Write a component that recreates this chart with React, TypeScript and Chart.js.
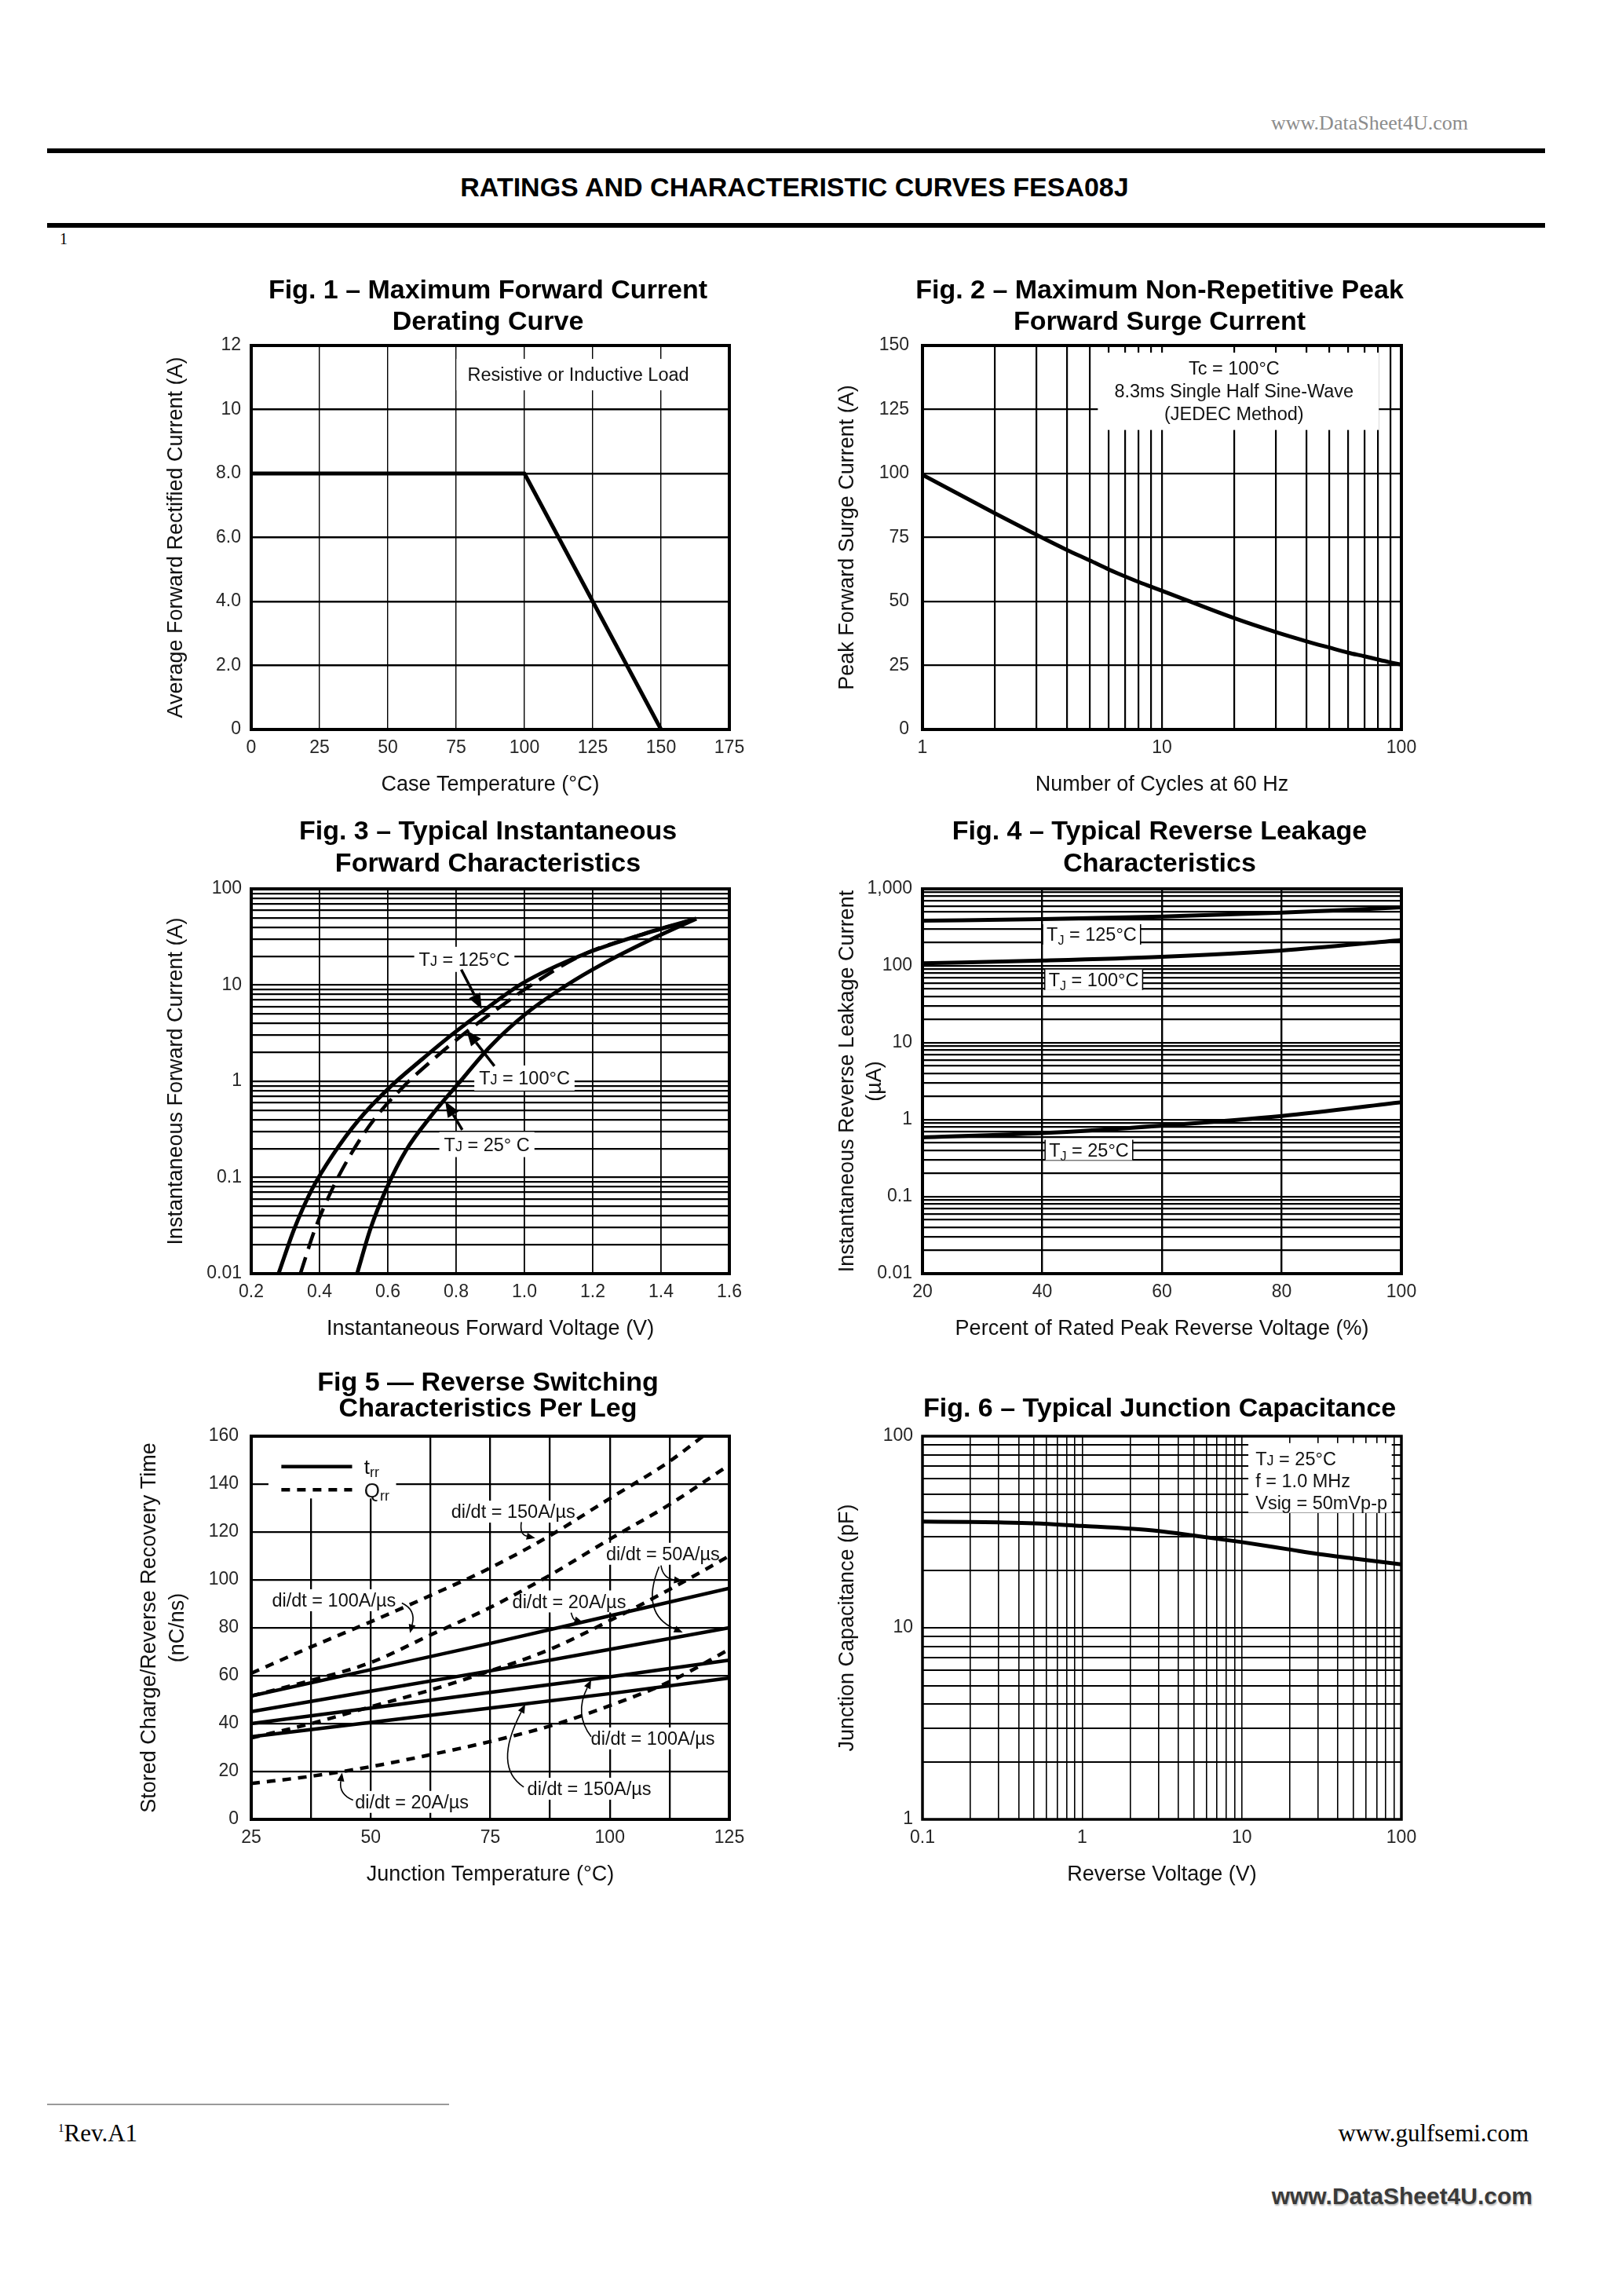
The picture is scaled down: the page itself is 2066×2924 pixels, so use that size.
import React, { useEffect, useRef } from 'react';
import { Chart, registerables } from 'chart.js';

Chart.register(...registerables);

const FONT = '"Liberation Sans", Arial, Helvetica, sans-serif';
const SERIF = '"Liberation Serif", "Times New Roman", serif';
const INK = '#111111';
const TICK_INK = '#262626';
Chart.defaults.font.family = FONT;

// ---------------- Fig. 1 : derating curve ----------------
const fig1CaseTemp = [0, 100, 150];
const fig1AvgCurrent = [8, 8, 0];
const fig1XTicks = [0, 25, 50, 75, 100, 125, 150, 175];
const fig1XLabels = ['0', '25', '50', '75', '100', '125', '150', '175'];
const fig1YTicks = [0, 2, 4, 6, 8, 10, 12];
const fig1YLabels = ['0', '2.0', '4.0', '6.0', '8.0', '10', '12'];

// ---------------- Fig. 2 : surge current ----------------
const fig2Cycles = [1, 2, 3, 4, 5, 6, 7, 8, 9, 10, 20, 30, 40, 50, 60, 70, 80, 90, 100];
const fig2Surge = [99.5, 84.5, 76, 70.2, 66, 62.5, 59.8, 57.6, 55.8, 54.2, 43.5, 38, 34.5, 32, 30, 28.6, 27.3, 26.2, 25.3];
const fig2XLabelVals = [1, 10, 100];
const fig2XLabels = ['1', '10', '100'];
const fig2YTicks = [0, 25, 50, 75, 100, 125, 150];
const fig2YLabels = ['0', '25', '50', '75', '100', '125', '150'];

// ---------------- Fig. 3 : forward characteristics ----------------
const fig3Volt125 = [0.28, 0.326, 0.379, 0.438, 0.514, 0.607, 0.701, 0.789, 0.877, 0.994, 1.17, 1.345, 1.503];
const fig3Amp125 = [0.01, 0.0292, 0.0767, 0.17, 0.394, 0.875, 1.7, 3.08, 5.31, 10.4, 20.6, 33.6, 49];
const fig3Volt100 = [0.344, 0.387, 0.438, 0.49, 0.558, 0.645, 0.734, 0.821, 0.91, 1.027, 1.17, 1.345, 1.503];
const fig3Amp100 = [0.01, 0.0292, 0.0767, 0.17, 0.394, 0.875, 1.7, 3.08, 5.31, 10.4, 20.6, 33.6, 49];
const fig3Volt25 = [0.51, 0.549, 0.596, 0.654, 0.725, 0.807, 0.9, 1.006, 1.123, 1.228, 1.369, 1.503];
const fig3Amp25 = [0.01, 0.0292, 0.0767, 0.193, 0.428, 0.95, 2.3, 5.09, 9.95, 16.5, 29.6, 49];
const fig3XTicks = [0.2, 0.4, 0.6, 0.8, 1.0, 1.2, 1.4, 1.6];
const fig3XLabels = ['0.2', '0.4', '0.6', '0.8', '1.0', '1.2', '1.4', '1.6'];
const fig3YLabelVals = [0.01, 0.1, 1, 10, 100];
const fig3YLabels = ['0.01', '0.1', '1', '10', '100'];

// ---------------- Fig. 4 : reverse leakage ----------------
const fig4Percent = [20, 40, 60, 80, 100];
const fig4Leak125 = [385, 405, 437, 490, 575];
const fig4Leak100 = [108, 117, 131, 158, 216];
const fig4Leak25 = [0.59, 0.67, 0.84, 1.12, 1.69];
const fig4XTicks = [20, 40, 60, 80, 100];
const fig4XLabels = ['20', '40', '60', '80', '100'];
const fig4YLabelVals = [0.01, 0.1, 1, 10, 100, 1000];
const fig4YLabels = ['0.01', '0.1', '1', '10', '100', '1,000'];

// ---------------- Fig. 5 : reverse switching ----------------
const fig5TempTrr = [25, 50, 75, 100, 125];
const fig5Trr20 = [51.5, 62.5, 73.5, 85, 96.5];
const fig5Trr50 = [45, 53.5, 62, 71, 80];
const fig5Trr100 = [40, 46.5, 53, 59.5, 66.5];
const fig5Trr150 = [34.5, 40.5, 46.5, 52.5, 59];
const fig5TempQrr = [25, 37.5, 50, 62.5, 75, 87.5, 100, 112.5, 125];
const fig5TempQrr150 = [25, 37.5, 50, 62.5, 75, 87.5, 100, 112.5, 119.5];
const fig5Qrr150 = [61, 72, 82.5, 93.5, 105, 118.5, 134, 149.5, 160];
const fig5Qrr100 = [51.5, 58, 65.5, 77, 88.5, 102, 117, 131.5, 148];
const fig5Qrr50 = [34, 40, 47, 54, 62, 71, 83, 96, 110];
const fig5Qrr20 = [15, 18, 22, 27, 32.5, 39, 47.5, 57.5, 71];
const fig5XTicks = [25, 37.5, 50, 62.5, 75, 87.5, 100, 112.5, 125];
const fig5XLabelVals = [25, 50, 75, 100, 125];
const fig5XLabels = ['25', '50', '75', '100', '125'];
const fig5YTicks = [0, 20, 40, 60, 80, 100, 120, 140, 160];
const fig5YLabels = ['0', '20', '40', '60', '80', '100', '120', '140', '160'];

// ---------------- Fig. 6 : junction capacitance ----------------
const fig6Voltage = [0.1, 0.2, 0.3, 0.5, 1, 2, 3, 5, 10, 20, 30, 50, 100];
const fig6Cap = [35.8, 35.7, 35.5, 35.1, 34, 32.9, 32, 30.3, 28, 25.6, 24.3, 23, 21.4];
const fig6XLabelVals = [0.1, 1, 10, 100];
const fig6XLabels = ['0.1', '1', '10', '100'];
const fig6YLabelVals = [1, 10, 100];
const fig6YLabels = ['1', '10', '100'];

// ---------------- layout ----------------
const COL_LEFT = [320, 1175];
const PLOT_W = [609, 610];
const ROW_TOP = [440, 1132, 1829];
const PLOT_H = [489, 490, 488];
const PADL = 150;
const PADT = 120;
const PADR = 50;
const PADB = 110;
const AXT = 27; // axis title font size
const XT_PAD = 22.8;
const YT_PAD = 38.3;

function decadeGrid(fromExp: number, toExp: number): number[] {
  const out: number[] = [];
  for (let e = fromExp; e < toExp; e++) {
    for (let m = 1; m < 10; m++) out.push(+(m * Math.pow(10, e)).toPrecision(6));
  }
  out.push(Math.pow(10, toExp));
  return out;
}

interface AxisDef {
  type: 'linear' | 'logarithmic';
  min: number;
  max: number;
  grid: number[];
  labelVals: number[];
  labels: string[];
  title: string[];
  titleLH: number;
  titlePad: number;
  gridWidth: number;
  tickPad: number;
}
interface SeriesDef {
  xs: number[];
  ys: number[];
  width: number;
  dash?: number[];
  smooth: boolean;
}
interface FigDef {
  key: string;
  col: number;
  row: number;
  title: string[];
  titleOffsets: number[];
  x: AxisDef;
  y: AxisDef;
  series: SeriesDef[];
  frame: number;
  under?: (c: any) => void;
  over?: (c: any) => void;
}

// ---------------- drawing helpers ----------------
function P(c: any, x: number, y: number) {
  return { x: c.scales.x.getPixelForValue(x), y: c.scales.y.getPixelForValue(y) };
}
function whiteRectPx(ctx: CanvasRenderingContext2D, l: number, t: number, r: number, b: number) {
  ctx.save();
  ctx.fillStyle = '#ffffff';
  ctx.fillRect(l, t, r - l, b - t);
  ctx.restore();
}
function whiteRectData(c: any, x0: number, y0: number, x1: number, y1: number) {
  const a = P(c, x0, y0);
  const b = P(c, x1, y1);
  whiteRectPx(c.ctx, Math.min(a.x, b.x), Math.min(a.y, b.y), Math.max(a.x, b.x), Math.max(a.y, b.y));
}
type Part = { t: string; s: number; dy?: number };
function richWidth(ctx: CanvasRenderingContext2D, parts: Part[]) {
  let w = 0;
  ctx.save();
  for (const p of parts) {
    ctx.font = `${p.s}px ${FONT}`;
    w += ctx.measureText(p.t).width;
  }
  ctx.restore();
  return w;
}
function drawRich(ctx: CanvasRenderingContext2D, parts: Part[], x: number, y: number, align: 'left' | 'center') {
  const w = richWidth(ctx, parts);
  let cx = align === 'center' ? x - w / 2 : x;
  const base = y + 0.358 * parts[0].s;
  ctx.save();
  ctx.fillStyle = INK;
  ctx.textAlign = 'left';
  ctx.textBaseline = 'alphabetic';
  for (const p of parts) {
    ctx.font = `${p.s}px ${FONT}`;
    ctx.fillText(p.t, cx, base + (p.dy || 0));
    cx += ctx.measureText(p.t).width;
  }
  ctx.restore();
  return w;
}
function labelBox(c: any, parts: Part[], xd: number, yd: number, padX: number, halfH: number, edges = false) {
  const ctx = c.ctx as CanvasRenderingContext2D;
  const p = P(c, xd, yd);
  const w = richWidth(ctx, parts);
  const l = p.x - w / 2 - padX;
  const r = p.x + w / 2 + padX;
  whiteRectPx(ctx, l, p.y - halfH, r, p.y + halfH);
  if (edges) {
    ctx.save();
    ctx.strokeStyle = '#000';
    ctx.lineWidth = 1.5;
    ctx.beginPath();
    ctx.moveTo(l, p.y - halfH);
    ctx.lineTo(l, p.y + halfH);
    ctx.moveTo(r, p.y - halfH);
    ctx.lineTo(r, p.y + halfH);
    ctx.stroke();
    ctx.restore();
  }
  drawRich(ctx, parts, p.x, p.y, 'center');
}
function arrowHead(ctx: CanvasRenderingContext2D, tipX: number, tipY: number, ang: number, hl: number, hw: number) {
  const bx = tipX - hl * Math.cos(ang);
  const by = tipY - hl * Math.sin(ang);
  ctx.beginPath();
  ctx.moveTo(tipX, tipY);
  ctx.lineTo(bx + hw * Math.sin(ang), by - hw * Math.cos(ang));
  ctx.lineTo(bx - hw * Math.sin(ang), by + hw * Math.cos(ang));
  ctx.closePath();
  ctx.fill();
  return { bx, by };
}
function straightArrow(c: any, x0: number, y0: number, x1: number, y1: number, lw: number, hl: number, hw: number) {
  const ctx = c.ctx as CanvasRenderingContext2D;
  const a = P(c, x0, y0);
  const b = P(c, x1, y1);
  const ang = Math.atan2(b.y - a.y, b.x - a.x);
  ctx.save();
  ctx.strokeStyle = '#000';
  ctx.fillStyle = '#000';
  ctx.lineWidth = lw;
  const { bx, by } = arrowHead(ctx, b.x, b.y, ang, hl, hw);
  ctx.beginPath();
  ctx.moveTo(a.x, a.y);
  ctx.lineTo(bx, by);
  ctx.stroke();
  ctx.restore();
}
function curvedArrow(c: any, pts: number[][], lw: number, hl: number, hw: number) {
  const ctx = c.ctx as CanvasRenderingContext2D;
  const a = P(c, pts[0][0], pts[0][1]);
  const m = P(c, pts[1][0], pts[1][1]);
  const b = P(c, pts[2][0], pts[2][1]);
  const ang = Math.atan2(b.y - m.y, b.x - m.x);
  ctx.save();
  ctx.strokeStyle = '#000';
  ctx.fillStyle = '#000';
  ctx.lineWidth = lw;
  const { bx, by } = arrowHead(ctx, b.x, b.y, ang, hl, hw);
  ctx.beginPath();
  ctx.moveTo(a.x, a.y);
  ctx.quadraticCurveTo(m.x, m.y, bx, by);
  ctx.stroke();
  ctx.restore();
}

const ANN = 23.5;
const SUB = 16;

// ---------------- figure definitions ----------------
const FIGS: FigDef[] = [
  {
    key: 'f1',
    col: 0,
    row: 0,
    title: ['Fig. 1 – Maximum Forward Current', 'Derating Curve'],
    titleOffsets: [69, 29],
    x: { type: 'linear', min: 0, max: 175, grid: fig1XTicks, labelVals: fig1XTicks, labels: fig1XLabels, title: ['Case Temperature (°C)'], titleLH: 1.2, titlePad: XT_PAD, gridWidth: 1.4, tickPad: 10 },
    y: { type: 'linear', min: 0, max: 12, grid: fig1YTicks, labelVals: fig1YTicks, labels: fig1YLabels, title: ['Average Forward Rectified Current (A)'], titleLH: 1.2, titlePad: YT_PAD, gridWidth: 2.6, tickPad: 13 },
    series: [{ xs: fig1CaseTemp, ys: fig1AvgCurrent, width: 5, smooth: false }],
    frame: 4,
    under: (c) => {
      labelBox(c, [{ t: 'Resistive or Inductive Load', s: ANN }], 119.7, 11.09, 14, 20);
    },
  },
  {
    key: 'f2',
    col: 1,
    row: 0,
    title: ['Fig. 2 – Maximum Non-Repetitive Peak', 'Forward Surge Current'],
    titleOffsets: [69, 29],
    x: { type: 'logarithmic', min: 1, max: 100, grid: decadeGrid(0, 2), labelVals: fig2XLabelVals, labels: fig2XLabels, title: ['Number of Cycles at 60 Hz'], titleLH: 1.2, titlePad: XT_PAD, gridWidth: 2.2, tickPad: 10 },
    y: { type: 'linear', min: 0, max: 150, grid: fig2YTicks, labelVals: fig2YTicks, labels: fig2YLabels, title: ['Peak Forward Surge Current (A)'], titleLH: 1.2, titlePad: YT_PAD, gridWidth: 2.2, tickPad: 17 },
    series: [{ xs: fig2Cycles, ys: fig2Surge, width: 5, smooth: true }],
    frame: 4,
    under: (c) => {
      whiteRectData(c, 5.4, 147.2, 80.5, 117);
      const ctx = c.ctx;
      const cx = P(c, 20, 0).x;
      drawRich(ctx, [{ t: 'Tc = 100°C', s: ANN }], cx, P(c, 1, 141.1).y, 'center');
      drawRich(ctx, [{ t: '8.3ms Single Half Sine-Wave', s: ANN }], cx, P(c, 1, 132.4).y, 'center');
      drawRich(ctx, [{ t: '(JEDEC Method)', s: ANN }], cx, P(c, 1, 123.3).y, 'center');
    },
  },
  {
    key: 'f3',
    col: 0,
    row: 1,
    title: ['Fig. 3 – Typical Instantaneous', 'Forward Characteristics'],
    titleOffsets: [72, 31],
    x: { type: 'linear', min: 0.2, max: 1.6, grid: fig3XTicks, labelVals: fig3XTicks, labels: fig3XLabels, title: ['Instantaneous Forward Voltage (V)'], titleLH: 1.2, titlePad: XT_PAD, gridWidth: 1.8, tickPad: 10 },
    y: { type: 'logarithmic', min: 0.01, max: 100, grid: decadeGrid(-2, 2), labelVals: fig3YLabelVals, labels: fig3YLabels, title: ['Instantaneous Forward Current (A)'], titleLH: 1.2, titlePad: YT_PAD, gridWidth: 2.2, tickPad: 12 },
    series: [
      { xs: fig3Volt125, ys: fig3Amp125, width: 5, smooth: true },
      { xs: fig3Volt100, ys: fig3Amp100, width: 4.5, dash: [22, 11], smooth: true },
      { xs: fig3Volt25, ys: fig3Amp25, width: 5, smooth: true },
    ],
    frame: 4,
    under: (c) => {
      labelBox(c, [{ t: 'T', s: ANN }, { t: 'J', s: 18 }, { t: ' = 125°C', s: ANN }], 0.824, 18.5, 6, 16);
      labelBox(c, [{ t: 'T', s: ANN }, { t: 'J', s: 18 }, { t: ' = 100°C', s: ANN }], 1.0, 1.08, 6, 16);
      labelBox(c, [{ t: 'T', s: ANN }, { t: 'J', s: 18 }, { t: ' = 25° C', s: ANN }], 0.89, 0.22, 6, 16);
    },
    over: (c) => {
      straightArrow(c, 0.815, 14.5, 0.875, 5.6, 3.5, 20, 8);
      straightArrow(c, 0.912, 1.44, 0.83, 3.4, 3.5, 20, 8);
      straightArrow(c, 0.818, 0.312, 0.768, 0.62, 3.5, 20, 8);
    },
  },
  {
    key: 'f4',
    col: 1,
    row: 1,
    title: ['Fig. 4 – Typical Reverse Leakage', 'Characteristics'],
    titleOffsets: [72, 31],
    x: { type: 'linear', min: 20, max: 100, grid: fig4XTicks, labelVals: fig4XTicks, labels: fig4XLabels, title: ['Percent of Rated Peak Reverse Voltage (%)'], titleLH: 1.2, titlePad: XT_PAD, gridWidth: 2.4, tickPad: 10 },
    y: { type: 'logarithmic', min: 0.01, max: 1000, grid: decadeGrid(-2, 3), labelVals: fig4YLabelVals, labels: fig4YLabels, title: ['Instantaneous Reverse Leakage Current', '(µA)'], titleLH: 35 / AXT, titlePad: 37.5, gridWidth: 2.2, tickPad: 13 },
    series: [
      { xs: fig4Percent, ys: fig4Leak125, width: 5, smooth: true },
      { xs: fig4Percent, ys: fig4Leak100, width: 5, smooth: true },
      { xs: fig4Percent, ys: fig4Leak25, width: 5, smooth: true },
    ],
    frame: 4,
    under: (c) => {
      labelBox(c, [{ t: 'T', s: ANN }, { t: 'J', s: SUB, dy: 5 }, { t: ' = 125°C', s: ANN }], 48.25, 256, 5, 13, true);
      labelBox(c, [{ t: 'T', s: ANN }, { t: 'J', s: SUB, dy: 5 }, { t: ' = 100°C', s: ANN }], 48.6, 66, 5, 13, true);
      labelBox(c, [{ t: 'T', s: ANN }, { t: 'J', s: SUB, dy: 5 }, { t: ' = 25°C', s: ANN }], 47.8, 0.405, 5, 13, true);
    },
  },
  {
    key: 'f5',
    col: 0,
    row: 2,
    title: ['Fig 5 — Reverse Switching', 'Characteristics Per Leg'],
    titleOffsets: [67, 34],
    x: { type: 'linear', min: 25, max: 125, grid: fig5XTicks, labelVals: fig5XLabelVals, labels: fig5XLabels, title: ['Junction Temperature (°C)'], titleLH: 1.2, titlePad: XT_PAD, gridWidth: 2.3, tickPad: 10 },
    y: { type: 'linear', min: 0, max: 160, grid: fig5YTicks, labelVals: fig5YTicks, labels: fig5YLabels, title: ['Stored Charge/Reverse Recovery Time', '(nC/ns)'], titleLH: 36 / AXT, titlePad: 3, gridWidth: 2.2, tickPad: 16 },
    series: [
      { xs: fig5TempTrr, ys: fig5Trr20, width: 4.5, smooth: false },
      { xs: fig5TempTrr, ys: fig5Trr50, width: 4.5, smooth: false },
      { xs: fig5TempTrr, ys: fig5Trr100, width: 4.5, smooth: false },
      { xs: fig5TempTrr, ys: fig5Trr150, width: 4.5, smooth: false },
      { xs: fig5TempQrr150, ys: fig5Qrr150, width: 4.5, dash: [11, 9], smooth: true },
      { xs: fig5TempQrr, ys: fig5Qrr100, width: 4.5, dash: [11, 9], smooth: true },
      { xs: fig5TempQrr, ys: fig5Qrr50, width: 4.5, dash: [11, 9], smooth: true },
      { xs: fig5TempQrr, ys: fig5Qrr20, width: 4.5, dash: [11, 9], smooth: true },
    ],
    frame: 4,
    under: (c) => {
      whiteRectData(c, 28.6, 160, 55.3, 134);
      const L = (s: string) => [{ t: s, s: ANN }];
      labelBox(c, L('di/dt = 150A/µs'), 79.8, 128.5, 3, 14);
      labelBox(c, L('di/dt = 100A/µs'), 42.3, 91.5, 3, 14);
      labelBox(c, L('di/dt = 20A/µs'), 91.5, 91.0, 3, 14);
      labelBox(c, L('di/dt = 50A/µs'), 111.1, 110.9, 3, 14);
      labelBox(c, L('di/dt = 100A/µs'), 109, 33.8, 3, 14);
      labelBox(c, L('di/dt = 150A/µs'), 95.7, 12.8, 3, 14);
      labelBox(c, L('di/dt = 20A/µs'), 58.6, 7.3, 3, 14);
    },
    over: (c) => {
      const ctx = c.ctx as CanvasRenderingContext2D;
      const s0 = P(c, 31.3, 147.3);
      const s1 = P(c, 46.1, 147.3);
      const d0 = P(c, 31.3, 137.6);
      const d1 = P(c, 46.1, 137.6);
      ctx.save();
      ctx.strokeStyle = '#000';
      ctx.lineWidth = 4.5;
      ctx.beginPath();
      ctx.moveTo(s0.x, s0.y);
      ctx.lineTo(s1.x, s1.y);
      ctx.stroke();
      ctx.setLineDash([11, 9]);
      ctx.beginPath();
      ctx.moveTo(d0.x, d0.y);
      ctx.lineTo(d1.x, d1.y);
      ctx.stroke();
      ctx.restore();
      const tx = P(c, 48.6, 0).x;
      drawRich(ctx, [{ t: 't', s: 26 }, { t: 'rr', s: 18, dy: 4 }], tx, s0.y, 'left');
      drawRich(ctx, [{ t: 'Q', s: 26 }, { t: 'rr', s: 18, dy: 4 }], tx, d0.y, 'left');
      const lw = 1.6;
      curvedArrow(c, [[81.5, 124.1], [81.1, 118.9], [84.4, 117.5]], lw, 11, 4.5);
      curvedArrow(c, [[56.5, 90.3], [59.5, 87.5], [58.2, 77.8]], lw, 11, 4.5);
      curvedArrow(c, [[91.9, 86.3], [92.3, 83.5], [94.4, 82.2]], lw, 11, 4.5);
      curvedArrow(c, [[110.7, 106], [111.1, 100.6], [115.25, 99.5]], lw, 11, 4.5);
      curvedArrow(c, [[110.3, 105.5], [106.3, 86], [115.25, 78]], lw, 11, 4.5);
      curvedArrow(c, [[96.1, 34.5], [92.5, 44], [96.1, 58.2]], lw, 11, 4.5);
      curvedArrow(c, [[82.0, 13.5], [75.5, 22], [82.3, 48]], lw, 11, 4.5);
      curvedArrow(c, [[46.3, 8], [43.3, 10.5], [44, 19.5]], lw, 11, 4.5);
    },
  },
  {
    key: 'f6',
    col: 1,
    row: 2,
    title: ['Fig. 6 – Typical Junction Capacitance'],
    titleOffsets: [34],
    x: { type: 'logarithmic', min: 0.1, max: 100, grid: decadeGrid(-1, 2), labelVals: fig6XLabelVals, labels: fig6XLabels, title: ['Reverse Voltage (V)'], titleLH: 1.2, titlePad: XT_PAD, gridWidth: 1.6, tickPad: 10 },
    y: { type: 'logarithmic', min: 1, max: 100, grid: decadeGrid(0, 2), labelVals: fig6YLabelVals, labels: fig6YLabels, title: ['Junction Capacitance (pF)'], titleLH: 1.2, titlePad: YT_PAD, gridWidth: 1.9, tickPad: 12 },
    series: [{ xs: fig6Voltage, ys: fig6Cap, width: 5, smooth: true }],
    frame: 3.5,
    under: (c) => {
      whiteRectData(c, 11, 92, 87, 39.8);
      const ctx = c.ctx;
      const lx = P(c, 12.2, 1).x;
      drawRich(ctx, [{ t: 'T', s: ANN }, { t: 'J', s: 18 }, { t: ' = 25°C', s: ANN }], lx, P(c, 1, 76).y, 'left');
      drawRich(ctx, [{ t: 'f = 1.0 MHz', s: ANN }], lx, P(c, 1, 58.4).y, 'left');
      drawRich(ctx, [{ t: 'Vsig = 50mVp-p', s: ANN }], lx, P(c, 1, 45.1).y, 'left');
    },
  },
];

function labelFor(a: AxisDef, v: number): string {
  const i = a.labelVals.findIndex((lv) => Math.abs(lv - v) <= 1e-9 * Math.max(1, Math.abs(lv)));
  return i >= 0 ? a.labels[i] : '';
}

function makeAxis(a: AxisDef, horizontal: boolean): any {
  return {
    type: a.type,
    position: horizontal ? 'bottom' : 'left',
    min: a.min,
    max: a.max,
    afterBuildTicks: (s: any) => {
      s.ticks = a.grid.map((v) => ({ value: v }));
    },
    afterFit: (s: any) => {
      if (horizontal) s.height = PADB;
      else s.width = PADL;
    },
    ticks: {
      autoSkip: false,
      maxRotation: 0,
      minRotation: 0,
      padding: a.tickPad,
      color: TICK_INK,
      font: { family: FONT, size: 23 },
      callback: (v: any) => labelFor(a, Number(v)),
    },
    grid: { color: '#000000', lineWidth: a.gridWidth, drawTicks: false },
    border: { display: false },
    title: {
      display: true,
      text: a.title,
      color: INK,
      font: { family: FONT, size: AXT, lineHeight: a.titleLH },
      padding: horizontal ? { top: 0, bottom: a.titlePad } : { top: a.titlePad, bottom: 0 },
    },
  };
}

function buildConfig(fig: FigDef): any {
  const decor = {
    id: 'decor_' + fig.key,
    beforeDatasetsDraw(chart: any) {
      if (fig.under) fig.under(chart);
    },
    afterDatasetsDraw(chart: any) {
      const ctx = chart.ctx as CanvasRenderingContext2D;
      const a = chart.chartArea;
      ctx.save();
      ctx.strokeStyle = '#000';
      ctx.lineWidth = fig.frame;
      ctx.strokeRect(a.left, a.top, a.right - a.left, a.bottom - a.top);
      ctx.restore();
      if (fig.over) fig.over(chart);
      ctx.save();
      ctx.fillStyle = '#000';
      ctx.font = `bold 34px ${FONT}`;
      ctx.textAlign = 'center';
      ctx.textBaseline = 'middle';
      fig.title.forEach((t, i) => ctx.fillText(t, (a.left + a.right) / 2 - 3, a.top - fig.titleOffsets[i]));
      ctx.restore();
    },
  };
  return {
    type: 'line',
    data: {
      datasets: fig.series.map((s) => ({
        data: s.xs.map((x, i) => ({ x, y: s.ys[i] })),
        borderColor: '#000000',
        backgroundColor: '#000000',
        borderWidth: s.width,
        borderDash: s.dash || [],
        borderCapStyle: 'butt',
        borderJoinStyle: 'round',
        pointRadius: 0,
        pointHoverRadius: 0,
        fill: false,
        tension: 0,
        cubicInterpolationMode: s.smooth ? 'monotone' : 'default',
      })),
    },
    options: {
      animation: false,
      responsive: false,
      maintainAspectRatio: false,
      devicePixelRatio: 1,
      events: [],
      layout: { padding: { top: PADT, right: PADR, left: 0, bottom: 0 } },
      plugins: { legend: { display: false }, tooltip: { enabled: false }, title: { display: false } },
      scales: { x: makeAxis(fig.x, true), y: makeAxis(fig.y, false) },
    },
    plugins: [decor],
  };
}

function FigChart({ fig }: { fig: FigDef }) {
  const ref = useRef<HTMLCanvasElement>(null);
  const plotW = PLOT_W[fig.col];
  const plotH = PLOT_H[fig.row];
  const W = PADL + plotW + PADR;
  const H = PADT + plotH + PADB;
  const left = COL_LEFT[fig.col] - PADL;
  const top = ROW_TOP[fig.row] - PADT;
  useEffect(() => {
    if (!ref.current) return;
    const chart = new Chart(ref.current, buildConfig(fig));
    return () => chart.destroy();
  }, [fig]);
  return (
    <canvas
      ref={ref}
      width={W}
      height={H}
      style={{ position: 'absolute', left, top, width: W, height: H }}
    />
  );
}

export default function App() {
  return (
    <div style={{ position: 'absolute', left: 0, top: 0, width: 2066, height: 2924, background: '#ffffff', overflow: 'hidden' }}>
      <div style={{ position: 'absolute', right: 2066 - 1870, top: 141, fontFamily: SERIF, fontSize: 26, lineHeight: '32px', color: '#8c8c8c', whiteSpace: 'nowrap' }}>
        www.DataSheet4U.com
      </div>
      <div style={{ position: 'absolute', left: 60, top: 189, width: 1908, height: 6, background: '#000' }} />
      <div style={{ position: 'absolute', left: 0, width: 2024, top: 218, lineHeight: '40px', textAlign: 'center', fontFamily: FONT, fontWeight: 700, fontSize: 34, color: '#000', whiteSpace: 'nowrap' }}>
        RATINGS AND CHARACTERISTIC CURVES FESA08J
      </div>
      <div style={{ position: 'absolute', left: 60, top: 284, width: 1908, height: 6, background: '#000' }} />
      <div style={{ position: 'absolute', left: 76, top: 292, fontFamily: SERIF, fontSize: 20, lineHeight: '24px', color: '#000' }}>1</div>

      {FIGS.map((f) => (
        <FigChart key={f.key} fig={f} />
      ))}

      <div style={{ position: 'absolute', left: 60, top: 2679, width: 512, height: 1.5, background: '#9a9a9a' }} />
      <div style={{ position: 'absolute', left: 74, top: 2698, fontFamily: SERIF, fontSize: 31, lineHeight: '38px', color: '#000', whiteSpace: 'nowrap' }}>
        <span style={{ fontSize: 15, position: 'relative', top: -12 }}>1</span>Rev.A1
      </div>
      <div style={{ position: 'absolute', right: 2066 - 1947, top: 2698, fontFamily: SERIF, fontSize: 31, lineHeight: '38px', color: '#000', whiteSpace: 'nowrap' }}>
        www.gulfsemi.com
      </div>
      <div style={{ position: 'absolute', right: 2066 - 1952, top: 2778, fontFamily: FONT, fontWeight: 700, fontSize: 30, lineHeight: '38px', color: '#3a3a3a', whiteSpace: 'nowrap', textShadow: '1px 2px 2px #bbbbbb' }}>
        www.DataSheet4U.com
      </div>
    </div>
  );
}
